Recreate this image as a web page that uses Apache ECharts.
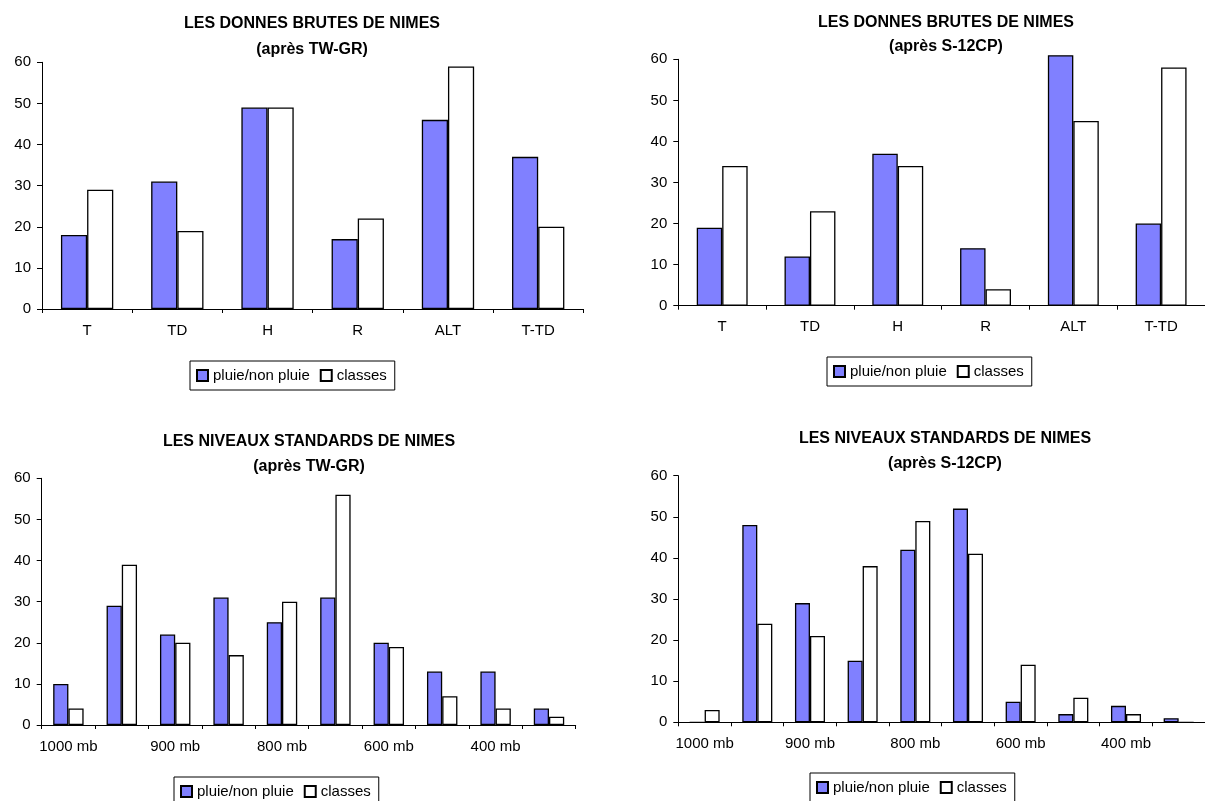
<!DOCTYPE html>
<html>
<head>
<meta charset="utf-8">
<script src="https://cdn.jsdelivr.net/npm/echarts@6/dist/echarts.min.js"></script>
<style>
html,body{margin:0;padding:0;background:#fff;}
#main{width:1205px;height:801px;}
</style>
</head>
<body>
<div id="main"></div>
<script>
// ---- data ----
const brutesCategories = ['T', 'TD', 'H', 'R', 'ALT', 'T-TD'];
const niveauxCategories = ['1000 mb', '950 mb', '900 mb', '850 mb', '800 mb', '700 mb', '600 mb', '500 mb', '400 mb', '300 mb'];
const seriesNames = ['pluie/non pluie', 'classes'];
const yTicks = [0, 10, 20, 30, 40, 50, 60];

// LES DONNES BRUTES DE NIMES (après TW-GR)
const brutesTwgrPluie   = [18, 31, 49, 17, 46, 37];
const brutesTwgrClasses = [29, 19, 49, 22, 59, 20];
// LES DONNES BRUTES DE NIMES (après S-12CP)
const brutesS12Pluie    = [19, 12, 37, 14, 61, 20];
const brutesS12Classes  = [34, 23, 34, 4, 45, 58];
// LES NIVEAUX STANDARDS DE NIMES (après TW-GR)
const niveauxTwgrPluie   = [10, 29, 22, 31, 25, 31, 20, 13, 13, 4];
const niveauxTwgrClasses = [4, 39, 20, 17, 30, 56, 19, 7, 4, 2];
// LES NIVEAUX STANDARDS DE NIMES (après S-12CP)
const niveauxS12Pluie    = [0, 48, 29, 15, 42, 52, 5, 2, 4, 1];
const niveauxS12Classes  = [3, 24, 21, 38, 49, 41, 14, 6, 2, 0];

const titles = [
  'LES DONNES BRUTES DE NIMES\n(après TW-GR)',
  'LES DONNES BRUTES DE NIMES\n(après S-12CP)',
  'LES NIVEAUX STANDARDS DE NIMES\n(après TW-GR)',
  'LES NIVEAUX STANDARDS DE NIMES\n(après S-12CP)'
];

// ---- layout ----
const FONT = '"Liberation Sans", Arial, Helvetica, sans-serif';
const panels = [
  {grid:{left:42, top:62.3, width:541.3, height:246.7}, titleX:312, titleTop:11,  lh:26, legend:{left:190, top:361}, cats:brutesCategories, a:brutesTwgrPluie, b:brutesTwgrClasses, gap:'42%'},
  {grid:{left:678.3, top:59.3, width:536, height:246.4}, titleX:946, titleTop:11, lh:24, legend:{left:827, top:357}, cats:brutesCategories, a:brutesS12Pluie, b:brutesS12Classes, gap:'42%'},
  {grid:{left:41.7, top:478.3, width:534, height:246.7}, titleX:309, titleTop:429.5, lh:25, legend:{left:174, top:777}, cats:niveauxCategories, a:niveauxTwgrPluie, b:niveauxTwgrClasses, gap:'43%'},
  {grid:{left:678.3, top:475.7, width:533.5, height:246.6}, titleX:945, titleTop:425.5, lh:25.6, legend:{left:810, top:773}, cats:niveauxCategories, a:niveauxS12Pluie, b:niveauxS12Classes, gap:'43%'}
];

const option = {
  animation: false,
  backgroundColor: '#fff',
  title: [], legend: [], grid: [], xAxis: [], yAxis: [], series: []
};

panels.forEach((p, i) => {
  option.title.push({
    text: titles[i], left: p.titleX, top: p.titleTop, textAlign: 'center', padding: 0,
    textStyle: {fontFamily: FONT, fontSize: 16, fontWeight: 'bold', color: '#000', lineHeight: p.lh}
  });
  option.legend.push({
    data: seriesNames, left: p.legend.left, top: p.legend.top, orient: 'horizontal',
    borderColor: '#000', borderWidth: 1, backgroundColor: '#fff', padding: [7, 8, 7, 6],
    itemWidth: 11, itemHeight: 11, itemGap: 10, icon: 'rect', selectedMode: false,
    textStyle: {fontFamily: FONT, fontSize: 15, color: '#000'}
  });
  option.grid.push(Object.assign({containLabel: false}, p.grid));
  option.xAxis.push({
    type: 'category', gridIndex: i, data: p.cats, boundaryGap: true,
    axisLine: {lineStyle: {color: '#000', width: 1}},
    axisTick: {show: true, length: 4, interval: 0, lineStyle: {color: '#000'}},
    axisLabel: {interval: p.cats.length > 6 ? 1 : 0, margin: 14, fontFamily: FONT, fontSize: 15, color: '#000'},
    splitLine: {show: false}
  });
  option.yAxis.push({
    type: 'value', gridIndex: i, min: yTicks[0], max: yTicks[yTicks.length - 1], interval: yTicks[1] - yTicks[0],
    axisLine: {show: true, lineStyle: {color: '#000', width: 1}},
    axisTick: {show: true, length: 5, lineStyle: {color: '#000'}},
    axisLabel: {margin: 11, fontFamily: FONT, fontSize: 15, color: '#000'},
    splitLine: {show: false}
  });
  option.series.push({
    name: seriesNames[0], type: 'bar', xAxisIndex: i, yAxisIndex: i, data: p.a,
    barGap: '0%', barCategoryGap: p.gap, clip: false,
    itemStyle: {color: '#8080ff', borderColor: '#000', borderWidth: 1.3}
  });
  option.series.push({
    name: seriesNames[1], type: 'bar', xAxisIndex: i, yAxisIndex: i, data: p.b,
    barGap: '0%', barCategoryGap: p.gap, clip: false,
    itemStyle: {color: '#ffffff', borderColor: '#000', borderWidth: 1.3}
  });
});

const chart = echarts.init(document.getElementById('main'), null, {renderer: 'canvas'});
chart.setOption(option);
</script>
</body>
</html>
